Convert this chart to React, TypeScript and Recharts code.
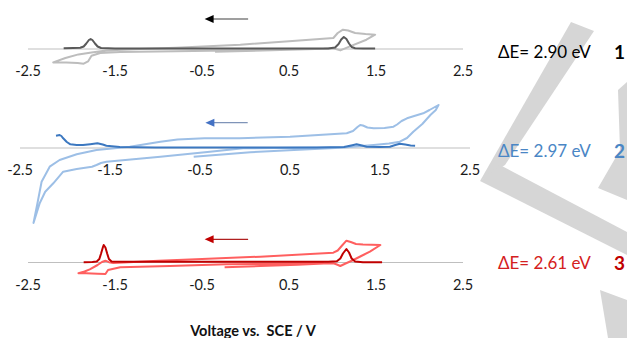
// @ts-nocheck
import React from 'react';
import { LineChart, Line, XAxis, YAxis, ReferenceLine, ReferenceDot } from 'recharts';

// potential (V vs SCE) and current (arb. units)
const ticks = [-2.5, -1.5, -0.5, 0.5, 1.5, 2.5];

const cv1 = [
  [-0.35, -2.8], [0.3, -1.2], [0.9, 0.3], [1.01, 0.8], [1.09, -1.4], [1.2, 2.6], [1.39, 9.3], [1.49, 14.3],
  [1.38, 15], [1.26, 16], [1.18, 18.5], [1.12, 19.3], [1.06, 16], [1.01, 11], [0.5, 7.8], [-0.06, 4.3],
  [-0.8, 1.2], [-1.3, -0.3], [-1.6, -1.4], [-1.77, -3.4], [-1.92, -5.4], [-2.07, -9], [-2.21, -13.4],
  [-2.06, -13.6], [-1.93, -14], [-1.86, -14.7], [-1.81, -12.4], [-1.77, -6.7], [-1.67, -4], [-1.44, -3],
  [-0.8, -2.2], [-0.2, -1.5], [0.5, -0.5], [0.9, 0.3],
];
const dpv1 = [
  [-2.09, 0.8], [-1.98, 1], [-1.9, 1.2], [-1.86, 2.5], [-1.83, 5.5], [-1.8, 9], [-1.78, 10], [-1.76, 9],
  [-1.73, 5.5], [-1.7, 2.5], [-1.66, 1], [-1.5, 0.6], [-0.5, 0.4], [0.5, 0.4], [0.95, 0.5], [1.03, 1.5],
  [1.07, 5], [1.1, 9.5], [1.13, 12], [1.16, 10], [1.19, 5.5], [1.22, 2], [1.26, 0.8], [1.35, 0.6], [1.49, 0.6],
];

const cv2 = [
  [-0.57, -8.7], [0.06, -4.3], [0.6, -1.8], [1.06, 0.3], [1.43, 3], [1.6, 4.5], [1.72, 6.3], [1.8, 10],
  [1.87, 16.3], [1.97, 24], [2.06, 33], [2.12, 38], [2.15, 43], [2.05, 38], [1.98, 34.7], [1.88, 32],
  [1.8, 29.7], [1.74, 27], [1.69, 23.5], [1.65, 21.3], [1.55, 20], [1.43, 19.7], [1.36, 20.5], [1.31, 22.5],
  [1.28, 23], [1.25, 21], [1.2, 17], [1.13, 14.7], [0.5, 11.3], [-0.06, 9.7], [-0.45, 9.8], [-0.75, 8.5],
  [-0.94, 6.3], [-1.28, 1.3], [-1.65, -2], [-1.87, -6.3], [-2.06, -12], [-2.17, -18.7], [-2.26, -33.7],
  [-2.31, -57], [-2.35, -75], [-2.28, -55], [-2.22, -43.7], [-2.13, -35.3], [-2.02, -23.7], [-1.87, -21],
  [-1.7, -18.7], [-1.65, -17], [-1.6, -15], [-1.54, -13.7], [-0.94, -8.7], [-0.39, -3.7], [-0.02, -0.3],
  [0.6, 0.2], [1.06, 0.5],
];
const dpv2 = [
  [-2.1, 12.3], [-2.06, 13], [-2.04, 12], [-2.02, 9.7], [-1.98, 6], [-1.94, 3.7], [-1.87, 3], [-1.8, 3],
  [-1.72, 3.8], [-1.64, 4.7], [-1.58, 3.5], [-1.54, 2.3], [-1.39, 1], [-1.0, 0.6], [0, 0.5], [0.8, 0.5],
  [1.1, 1], [1.18, 2.5], [1.24, 3.7], [1.3, 2.5], [1.35, 1.3], [1.5, 1], [1.61, 1.3], [1.67, 3], [1.72, 4.3],
  [1.78, 3.5], [1.84, 2.6], [1.89, 2.3],
];

const cv3 = [
  [-0.24, -4.8], [0.17, -3.5], [0.6, -2.2], [0.9, -1], [1.01, -0.8], [1.05, -2], [1.09, -3.5], [1.15, -1],
  [1.24, 2.5], [1.33, 6.5], [1.43, 10.8], [1.55, 17.5], [1.45, 17.8], [1.35, 18], [1.27, 18.5], [1.21, 20.5],
  [1.16, 21.8], [1.11, 17], [1.06, 12], [1.01, 9.8], [0.17, 5.8], [-0.5, 3.5], [-1.0, 1.8], [-1.4, 0],
  [-1.52, -0.5], [-1.57, 0.3], [-1.61, 1.8], [-1.65, 0.5], [-1.7, -2.5], [-1.79, -6.8], [-1.85, -9],
  [-1.92, -10.8], [-1.83, -10.8], [-1.7, -11.2], [-1.61, -11.5], [-1.58, -7.5], [-1.44, -4.8], [-0.87, -3.5],
  [-0.22, -1.8], [0.5, -1], [0.9, -0.5],
];
const dpv3 = [
  [-1.86, 0.2], [-1.76, 0.4], [-1.71, 1], [-1.68, 3.5], [-1.66, 9], [-1.64, 15], [-1.63, 17.5], [-1.61, 15],
  [-1.59, 9], [-1.57, 3.5], [-1.54, 1], [-1.4, 0.8], [0, 0.8], [0.95, 0.8], [1.05, 1.2], [1.09, 4], [1.12, 9],
  [1.16, 13.5], [1.19, 10], [1.22, 4], [1.26, 1], [1.35, 0.3], [1.57, 0.2],
];

// scan direction arrows: [tail V, tip V, current]
const arrows = [
  [0.03, -0.47, 30],
  [0.03, -0.44, 25.3],
  [0.03, -0.47, 23.2],
];

const gapLabels = ['ΔE= 2.90 eV', 'ΔE= 2.97 eV', 'ΔE= 2.61 eV'];
const compoundIds = ['1', '2', '3'];

const toPts = (arr) => arr.map(([v, i]) => ({ v, i }));

const panels = [
  { cv: cv1, dpv: dpv1, cvColor: '#bdbdbd', dpvColor: '#595959', arrowLine: '#404040', arrowHead: '#000000',
    labelColor: '#000000', idColor: '#000000', top: 0, height: 85, axis: 49, x0: 28, x1: 463, textShift: 3 },
  { cv: cv2, dpv: dpv2, cvColor: '#9dbfe6', dpvColor: '#3c78c0', arrowLine: '#7f94b8', arrowHead: '#4472c4',
    labelColor: '#4a86c5', idColor: '#4a86c5', top: 95, height: 135, axis: 53, x0: 20, x1: 470, textShift: 3 },
  { cv: cv3, dpv: dpv3, cvColor: '#ff5f5f', dpvColor: '#c00000', arrowLine: '#b02020', arrowHead: '#c00000',
    labelColor: '#d42020', idColor: '#c00000', top: 225, height: 75, axis: 37.5, x0: 28, x1: 463, textShift: 0.5 },
];

const FONT = 'Lato, "Open Sans", sans-serif';

function Panel({ p, arrow }) {
  const [tail, tip, ay] = arrow;
  return (
    <div style={{ position: 'absolute', left: 0, top: p.top }}>
      <LineChart width={627} height={p.height} margin={{ top: 0, right: 627 - p.x1, left: p.x0, bottom: 0 }}>
        <XAxis type="number" dataKey="v" domain={[-2.5, 2.5]} hide />
        <YAxis type="number" dataKey="i" domain={[p.axis - p.height, p.axis]} hide />
        <ReferenceLine y={0} stroke="#bfbfbf" strokeWidth={1.2} />
        {ticks.map((t) => (
          <ReferenceDot
            key={t}
            x={t}
            y={0}
            r={0}
            fill="none"
            stroke="none"
            label={{ value: t, position: 'bottom', offset: 17, fill: '#1a1a1a', fontSize: 14.5, fontFamily: FONT }}
          />
        ))}
        <ReferenceLine
          segment={[{ x: tail, y: ay }, { x: tip + 0.08, y: ay }]}
          stroke={p.arrowLine}
          strokeWidth={1.2}
        />
        <ReferenceDot
          x={tip}
          y={ay}
          r={4}
          shape={(s) => <path d={`M${s.cx},${s.cy} l9,-4 l0,8 z`} fill={p.arrowHead} />}
        />
        <Line
          data={toPts(p.cv)}
          dataKey="i"
          type="linear"
          stroke={p.cvColor}
          strokeWidth={2}
          strokeLinejoin="round"
          dot={false}
          activeDot={false}
          isAnimationActive={false}
        />
        <Line
          data={toPts(p.dpv)}
          dataKey="i"
          type="linear"
          stroke={p.dpvColor}
          strokeWidth={2}
          strokeLinejoin="round"
          dot={false}
          activeDot={false}
          isAnimationActive={false}
        />
      </LineChart>
    </div>
  );
}

export default function App() {
  return (
    <div style={{ position: 'absolute', left: 0, top: 0, width: 627, height: 338, background: '#fff', overflow: 'hidden', fontFamily: FONT }}>
      {/* faint watermark shape behind the figure */}
      <svg width={627} height={338} style={{ position: 'absolute', left: 0, top: 0 }}>
        <polygon points="571,22 594,31 505,165 480,181" fill="#d6d6d6" />
        <polygon points="480,181 500,165 627,232 627,255" fill="#d6d6d6" />
        <polygon points="618,90 627,82 627,200 598,188 620,150" fill="#d6d6d6" />
        <polygon points="600,290 627,300 627,338 608,338" fill="#d6d6d6" />
      </svg>
      {panels.map((p, k) => (
        <Panel key={k} p={p} arrow={arrows[k]} />
      ))}
      {panels.map((p, k) => (
        <React.Fragment key={'t' + k}>
          <div style={{ position: 'absolute', left: 498, top: p.top + p.axis + p.textShift - 10, fontSize: 17, lineHeight: '20px', color: p.labelColor, whiteSpace: 'pre' }}>
            {gapLabels[k]}
          </div>
          <div style={{ position: 'absolute', left: 614, top: p.top + p.axis + p.textShift - 11, fontSize: 19, lineHeight: '22px', fontWeight: 700, color: p.idColor }}>
            {compoundIds[k]}
          </div>
        </React.Fragment>
      ))}
      <div style={{ position: 'absolute', left: 0, width: 506, top: 322, textAlign: 'center', fontSize: 14.5, lineHeight: '18px', fontWeight: 700, color: '#111', whiteSpace: 'pre' }}>
        {'Voltage vs.  SCE / V'}
      </div>
    </div>
  );
}
